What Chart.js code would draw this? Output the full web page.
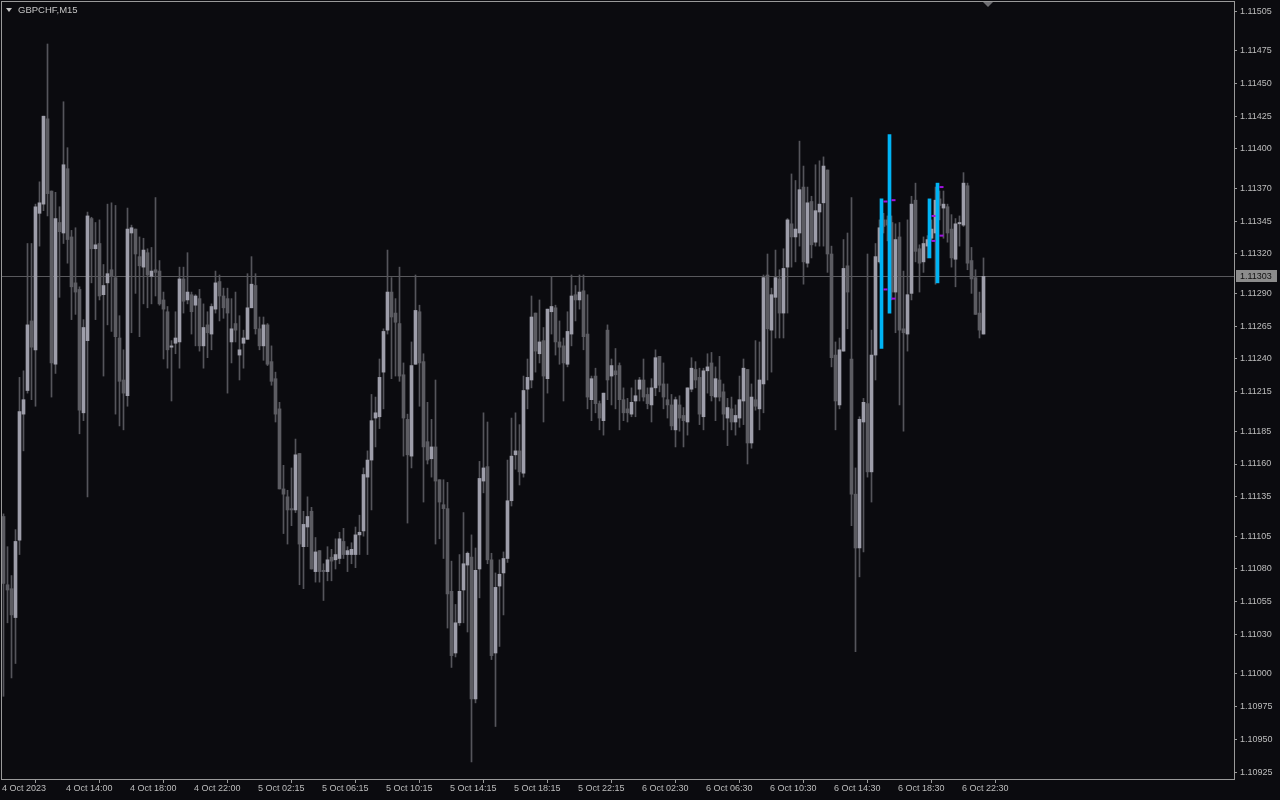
<!DOCTYPE html>
<html>
<head>
<meta charset="utf-8">
<title>GBPCHF,M15</title>
<script src="https://cdn.jsdelivr.net/npm/chart.js@4.4.1/dist/chart.umd.min.js"></script>
<style>
    html, body { margin: 0; padding: 0; background: #0b0b0f; }
    #wrap { position: relative; width: 1280px; height: 800px; }
</style>
</head>
<body>
<div id="wrap"><canvas id="chart" width="1280" height="800"></canvas></div>
<script>
/**
 * GBPCHF M15 candles, 4 Oct 10:00 - 6 Oct 23:15 (one entry per bar)
 */
var symbolLabel = 'GBPCHF,M15';

var opens = [
    1.11120,1.11068,1.11065,1.11043,1.11102,1.11198,1.11216,1.11269,1.11247,1.11351,
    1.11358,1.11423,1.11368,1.11236,1.11344,1.11336,1.11385,1.11333,1.11298,1.11293,
    1.11199,1.11254,1.11347,1.11324,1.11328,1.11289,1.11298,1.11308,1.11302,1.11256,
    1.11224,1.11212,1.11336,1.11339,1.11318,1.11310,1.11321,1.11303,1.11308,1.11307,
    1.11285,1.11276,1.11249,1.11252,1.11253,1.11301,1.11285,1.11289,1.11281,1.11286,
    1.11250,1.11266,1.11259,1.11278,1.11299,1.11288,1.11286,1.11253,1.11267,1.11243,
    1.11252,1.11255,1.11279,1.11296,1.11263,1.11250,1.11266,1.11238,1.11225,1.11202,
    1.11141,1.11135,1.11126,1.11125,1.11168,1.11097,1.11112,1.11124,1.11078,1.11094,
    1.11079,1.11078,1.11089,1.11087,1.11088,1.11101,1.11091,1.11091,1.11091,1.11106,
    1.11109,1.11150,1.11163,1.11195,1.11196,1.11230,1.11262,1.11291,1.11275,1.11267,
    1.11228,1.11194,1.11166,1.11236,1.11276,1.11238,1.11177,1.11164,1.11173,1.11148,
    1.11129,1.11126,1.11063,1.11016,1.11039,1.11064,1.11083,1.11089,1.10981,1.11080,
    1.11147,1.11158,1.11087,1.11016,1.11067,1.11077,1.11088,1.11132,1.11167,1.11170,
    1.11153,1.11217,1.11224,1.11275,1.11244,1.11254,1.11225,1.11276,1.11279,1.11253,
    1.11250,1.11236,1.11259,1.11289,1.11285,1.11292,1.11259,1.11209,1.11227,1.11206,
    1.11193,1.11262,1.11227,1.11231,1.11235,1.11209,1.11202,1.11198,1.11208,1.11217,
    1.11224,1.11213,1.11205,1.11218,1.11242,1.11221,1.11209,1.11205,1.11186,1.11205,
    1.11197,1.11192,1.11217,1.11232,1.11226,1.11196,1.11231,1.11237,1.11211,1.11224,
    1.11215,1.11195,1.11202,1.11192,1.11195,1.11208,1.11232,1.11176,1.11209,1.11202,
    1.11221,1.11304,1.11262,1.11287,1.11301,1.11275,1.11310,1.11343,1.11333,1.11336,
    1.11371,1.11313,1.11360,1.11329,1.11352,1.11359,1.11384,1.11320,1.11243,1.11205,
    1.11246,1.11311,1.11240,1.11137,1.11096,1.11192,1.11206,1.11154,1.11243,1.11314,
    1.11346,1.11346,1.11344,1.11291,1.11333,1.11263,1.11259,1.11290,1.11361,1.11324,
    1.11314,1.11326,1.11332,1.11336,1.11362,1.11355,1.11356,1.11339,1.11316,1.11343,
    1.11342,1.11372,1.11315,1.11302,1.11275,1.11259
];

var highs = [
    1.11122,1.11097,1.11075,1.11110,1.11226,1.11231,1.11328,1.11328,1.11358,1.11375,
    1.11425,1.11480,1.11368,1.11367,1.11356,1.11436,1.11401,1.11338,1.11340,1.11295,
    1.11270,1.11352,1.11348,1.11344,1.11346,1.11312,1.11358,1.11359,1.11357,1.11273,
    1.11247,1.11355,1.11342,1.11339,1.11333,1.11332,1.11324,1.11325,1.11363,1.11315,
    1.11291,1.11280,1.11254,1.11276,1.11310,1.11310,1.11321,1.11291,1.11289,1.11293,
    1.11282,1.11276,1.11282,1.11307,1.11304,1.11294,1.11294,1.11286,1.11291,1.11273,
    1.11262,1.11305,1.11318,1.11305,1.11272,1.11272,1.11267,1.11250,1.11230,1.11207,
    1.11159,1.11140,1.11157,1.11179,1.11168,1.11124,1.11135,1.11127,1.11104,1.11094,
    1.11084,1.11097,1.11095,1.11103,1.11108,1.11111,1.11097,1.11100,1.11112,1.11121,
    1.11157,1.11170,1.11213,1.11211,1.11240,1.11263,1.11323,1.11302,1.11286,1.11310,
    1.11237,1.11198,1.11253,1.11304,1.11281,1.11244,1.11207,1.11194,1.11224,1.11148,
    1.11148,1.11146,1.11086,1.11053,1.11091,1.11123,1.11093,1.11106,1.11096,1.11162,
    1.11199,1.11192,1.11092,1.11077,1.11087,1.11093,1.11163,1.11195,1.11199,1.11190,
    1.11227,1.11240,1.11288,1.11275,1.11285,1.11264,1.11278,1.11303,1.11281,1.11269,
    1.11256,1.11276,1.11304,1.11296,1.11304,1.11304,1.11289,1.11227,1.11233,1.11208,
    1.11214,1.11266,1.11240,1.11248,1.11237,1.11218,1.11210,1.11218,1.11224,1.11226,
    1.11240,1.11218,1.11225,1.11247,1.11242,1.11237,1.11221,1.11213,1.11211,1.11212,
    1.11203,1.11218,1.11241,1.11238,1.11233,1.11233,1.11244,1.11245,1.11234,1.11242,
    1.11221,1.11210,1.11211,1.11205,1.11227,1.11240,1.11232,1.11221,1.11254,1.11253,
    1.11304,1.11320,1.11294,1.11323,1.11308,1.11324,1.11347,1.11381,1.11376,1.11406,
    1.11387,1.11371,1.11364,1.11388,1.11391,1.11394,1.11384,1.11326,1.11253,1.11256,
    1.11331,1.11336,1.11363,1.11157,1.11196,1.11210,1.11320,1.11262,1.11328,1.11346,
    1.11351,1.11349,1.11349,1.11343,1.11344,1.11307,1.11346,1.11364,1.11374,1.11327,
    1.11333,1.11334,1.11346,1.11371,1.11368,1.11368,1.11358,1.11350,1.11347,1.11349,
    1.11382,1.11374,1.11325,1.11308,1.11291,1.11317
];

var lows = [
    1.10983,1.11039,1.10997,1.11008,1.11091,1.11170,1.11214,1.11209,1.11204,1.11326,
    1.11353,1.11349,1.11211,1.11229,1.11287,1.11328,1.11313,1.11270,1.11274,1.11183,
    1.11193,1.11135,1.11298,1.11270,1.11285,1.11227,1.11266,1.11261,1.11198,1.11189,
    1.11186,1.11204,1.11260,1.11290,1.11257,1.11282,1.11279,1.11282,1.11288,1.11281,
    1.11240,1.11233,1.11208,1.11244,1.11233,1.11275,1.11282,1.11259,1.11250,1.11246,
    1.11233,1.11241,1.11247,1.11275,1.11269,1.11271,1.11214,1.11237,1.11253,1.11224,
    1.11233,1.11255,1.11279,1.11259,1.11247,1.11239,1.11235,1.11220,1.11192,1.11141,
    1.11107,1.11099,1.11113,1.11123,1.11068,1.11065,1.11097,1.11080,1.11070,1.11070,
    1.11056,1.11071,1.11071,1.11080,1.11084,1.11088,1.11078,1.11084,1.11081,1.11091,
    1.11105,1.11091,1.11125,1.11173,1.11187,1.11202,1.11259,1.11225,1.11227,1.11223,
    1.11166,1.11115,1.11157,1.11236,1.11204,1.11131,1.11160,1.11150,1.11099,1.11103,
    1.11088,1.11035,1.11005,1.11013,1.11037,1.11039,1.11032,1.10933,1.10978,1.11058,
    1.11138,1.11084,1.11011,1.10960,1.11021,1.11045,1.11085,1.11128,1.11156,1.11144,
    1.11150,1.11202,1.11218,1.11230,1.11237,1.11192,1.11214,1.11259,1.11243,1.11236,
    1.11208,1.11234,1.11250,1.11269,1.11278,1.11247,1.11202,1.11193,1.11199,1.11186,
    1.11182,1.11209,1.11205,1.11202,1.11186,1.11193,1.11192,1.11196,1.11196,1.11208,
    1.11208,1.11202,1.11192,1.11212,1.11215,1.11202,1.11195,1.11186,1.11173,1.11185,
    1.11173,1.11182,1.11215,1.11218,1.11190,1.11186,1.11214,1.11208,1.11193,1.11208,
    1.11186,1.11174,1.11186,1.11182,1.11188,1.11190,1.11160,1.11172,1.11201,1.11186,
    1.11199,1.11224,1.11230,1.11256,1.11256,1.11256,1.11275,1.11310,1.11314,1.11326,
    1.11297,1.11310,1.11317,1.11326,1.11326,1.11326,1.11306,1.11234,1.11186,1.11202,
    1.11246,1.11263,1.11113,1.11017,1.11074,1.11093,1.11150,1.11131,1.11224,1.11313,
    1.11336,1.11330,1.11285,1.11260,1.11205,1.11185,1.11246,1.11285,1.11314,1.11291,
    1.11306,1.11317,1.11330,1.11297,1.11346,1.11332,1.11329,1.11310,1.11295,1.11326,
    1.11341,1.11308,1.11290,1.11274,1.11256,1.11259
];

var closes = [
    1.11069,1.11064,1.11045,1.11101,1.11200,1.11209,1.11266,1.11249,1.11356,1.11359,
    1.11425,1.11366,1.11237,1.11347,1.11337,1.11388,1.11331,1.11295,1.11291,1.11201,
    1.11264,1.11349,1.11324,1.11327,1.11288,1.11296,1.11305,1.11303,1.11257,1.11223,
    1.11214,1.11339,1.11340,1.11320,1.11311,1.11323,1.11304,1.11307,1.11306,1.11282,
    1.11278,1.11247,1.11250,1.11256,1.11301,1.11284,1.11291,1.11276,1.11288,1.11250,
    1.11264,1.11260,1.11280,1.11298,1.11288,1.11279,1.11275,1.11263,1.11262,1.11247,
    1.11256,1.11279,1.11297,1.11263,1.11250,1.11266,1.11236,1.11223,1.11198,1.11141,
    1.11137,1.11125,1.11125,1.11167,1.11099,1.11114,1.11120,1.11080,1.11093,1.11078,
    1.11078,1.11087,1.11086,1.11091,1.11103,1.11091,1.11094,1.11095,1.11106,1.11108,
    1.11152,1.11163,1.11193,1.11199,1.11226,1.11261,1.11291,1.11272,1.11268,1.11227,
    1.11195,1.11167,1.11235,1.11277,1.11237,1.11173,1.11163,1.11173,1.11147,1.11131,
    1.11126,1.11061,1.11014,1.11039,1.11063,1.11084,1.11092,1.10981,1.11079,1.11149,
    1.11157,1.11087,1.11014,1.11066,1.11076,1.11088,1.11132,1.11166,1.11170,1.11154,
    1.11216,1.11226,1.11272,1.11246,1.11253,1.11227,1.11278,1.11280,1.11253,1.11249,
    1.11237,1.11261,1.11288,1.11285,1.11291,1.11257,1.11211,1.11225,1.11206,1.11195,
    1.11214,1.11224,1.11235,1.11228,1.11209,1.11199,1.11199,1.11207,1.11212,1.11224,
    1.11211,1.11206,1.11218,1.11241,1.11220,1.11211,1.11205,1.11189,1.11209,1.11195,
    1.11193,1.11218,1.11233,1.11224,1.11198,1.11231,1.11234,1.11212,1.11225,1.11211,
    1.11198,1.11203,1.11192,1.11197,1.11209,1.11233,1.11176,1.11211,1.11204,1.11224,
    1.11302,1.11263,1.11289,1.11302,1.11275,1.11309,1.11346,1.11333,1.11339,1.11369,
    1.11314,1.11359,1.11327,1.11353,1.11358,1.11387,1.11320,1.11241,1.11208,1.11247,
    1.11309,1.11291,1.11137,1.11096,1.11194,1.11207,1.11154,1.11243,1.11318,1.11340,
    1.11341,1.11342,1.11291,1.11331,1.11262,1.11260,1.11289,1.11358,1.11322,1.11313,
    1.11328,1.11331,1.11339,1.11361,1.11357,1.11358,1.11336,1.11317,1.11343,1.11344,
    1.11374,1.11313,1.11301,1.11274,1.11262,1.11303
];

// price scale labels as the terminal prints them
var priceTicks = [
    1.11505, 1.11475, 1.11450, 1.11425, 1.11400, 1.11370, 1.11345, 1.11320,
    1.11290, 1.11265, 1.11240, 1.11215, 1.11185, 1.11160, 1.11135, 1.11105,
    1.11080, 1.11055, 1.11030, 1.11000, 1.10975, 1.10950, 1.10925
];

// time scale: bar index of each label
var timeTickBars = [0, 16, 32, 48, 64, 80, 96, 112, 128, 144, 160, 176, 192, 208, 224, 240];
var timeTickLabels = [
    '4 Oct 2023', '4 Oct 14:00', '4 Oct 18:00', '4 Oct 22:00',
    '5 Oct 02:15', '5 Oct 06:15', '5 Oct 10:15', '5 Oct 14:15',
    '5 Oct 18:15', '5 Oct 22:15', '6 Oct 02:30', '6 Oct 06:30',
    '6 Oct 10:30', '6 Oct 14:30', '6 Oct 18:30', '6 Oct 22:30'
];

// indicator histogram (blue) and its levels (violet)
var signalBarX = [219.5, 221.5, 231.5, 233.5];
var signalBarLow = [1.11248, 1.11275, 1.11317, 1.11298];
var signalBarHigh = [1.11362, 1.11411, 1.11362, 1.11374];

var levelX = [220.5, 220.5, 222.5, 222.5, 232.5, 232.5, 234.5, 234.5];
var levelPrice = [1.11360, 1.11293, 1.11361, 1.11286, 1.11349, 1.11330, 1.11371, 1.11334];

var bidPrice = 1.11303;

(function() {
    'use strict';

    var BG = '#0b0b0f';
    var FRAME = '#9a9a9a';
    var TEXT = '#bdbdbd';
    var UP = '#9e9eaa';
    var DOWN = '#5c5c62';
    var WICK = '#55555b';
    var BLUE = '#00b4f5';
    var VIOLET = '#a012e0';
    var FONT = { family: '"Liberation Sans", Arial, sans-serif', size: 9 };

    Chart.defaults.font.family = FONT.family;
    Chart.defaults.font.size = FONT.size;
    Chart.defaults.color = TEXT;

    /**
     * Build bar data from the OHLC arrays
     */
    var wicks = [];
    var bodies = [];
    var bodyColors = [];
    for (var i = 0; i < opens.length; i++) {
        var o = opens[i], c = closes[i];
        wicks.push({ x: i, y: [Math.min(lows[i], o, c), Math.max(highs[i], o, c)] });
        bodies.push({ x: i, y: [o, c] });
        bodyColors.push(c >= o ? UP : DOWN);
    }

    var signalBars = signalBarX.map(function(x, k) {
        return { x: x, y: [signalBarLow[k], signalBarHigh[k]] };
    });

    var levels = levelX.map(function(x, k) {
        return { x: x, y: levelPrice[k] };
    });

    /**
     * Keep the plot flush with the frame: no label overhang padding
     */
    function noOverhang(scale) {
        scale.paddingTop = 0;
        scale.paddingBottom = 0;
        scale.paddingLeft = 0;
        scale.paddingRight = 0;
    }

    /**
     * Terminal decorations: background, frame, bid line, price box, title
     */
    var terminalPlugin = {
        id: 'terminal',

        beforeDraw: function(chart) {
            var ctx = chart.ctx;
            ctx.save();
            ctx.fillStyle = BG;
            ctx.fillRect(0, 0, chart.width, chart.height);
            ctx.restore();
        },

        beforeDatasetsDraw: function(chart) {
            var ctx = chart.ctx;
            var area = chart.chartArea;
            var y = Math.round(chart.scales.y.getPixelForValue(bidPrice)) + 0.5;
            ctx.save();
            ctx.strokeStyle = '#58585c';
            ctx.lineWidth = 1;
            ctx.beginPath();
            ctx.moveTo(area.left, y);
            ctx.lineTo(area.right, y);
            ctx.stroke();
            ctx.restore();
        },

        afterDraw: function(chart) {
            var ctx = chart.ctx;
            var area = chart.chartArea;
            var left = Math.round(area.left), top = Math.round(area.top);
            var right = Math.round(area.right), bottom = Math.round(area.bottom);

            ctx.save();

            // frame
            ctx.strokeStyle = FRAME;
            ctx.lineWidth = 1;
            ctx.strokeRect(left - 0.5, top - 0.5, right - left + 1, bottom - top + 1);

            // bid price box on the price scale
            var by = Math.round(chart.scales.y.getPixelForValue(bidPrice));
            ctx.fillStyle = '#8c8c8c';
            ctx.fillRect(right + 2, by - 6, 41, 12);
            ctx.fillStyle = '#101010';
            ctx.font = FONT.size + 'px ' + FONT.family;
            ctx.textBaseline = 'middle';
            ctx.textAlign = 'left';
            ctx.fillText(bidPrice.toFixed(5), right + 6, by + 0.5);

            // chart shift marker
            var sx = Math.round(chart.scales.x.getPixelForValue(opens.length));
            ctx.fillStyle = '#6e6e72';
            ctx.beginPath();
            ctx.moveTo(sx - 5, top);
            ctx.lineTo(sx + 5, top);
            ctx.lineTo(sx, top + 5);
            ctx.closePath();
            ctx.fill();

            // symbol caption
            ctx.fillStyle = '#c4c4c4';
            ctx.beginPath();
            ctx.moveTo(6, 8);
            ctx.lineTo(12, 8);
            ctx.lineTo(9, 12);
            ctx.closePath();
            ctx.fill();
            ctx.font = '9.5px ' + FONT.family;
            ctx.fillText(symbolLabel, 18, 10.5);

            ctx.restore();
        }
    };

    var ctx = document.getElementById('chart').getContext('2d');

    new Chart(ctx, {
        type: 'bar',
        data: {
            datasets: [
                {
                    type: 'scatter',
                    data: levels,
                    pointStyle: 'line',
                    pointRadius: 2,
                    pointHoverRadius: 2,
                    borderColor: VIOLET,
                    backgroundColor: VIOLET,
                    borderWidth: 2
                },
                {
                    data: signalBars,
                    backgroundColor: BLUE,
                    barThickness: 3,
                    grouped: false
                },
                {
                    data: bodies,
                    backgroundColor: bodyColors,
                    barThickness: 3,
                    minBarLength: 1,
                    grouped: false
                },
                {
                    data: wicks,
                    backgroundColor: WICK,
                    barThickness: 1,
                    grouped: false
                }
            ]
        },
        options: {
            responsive: false,
            maintainAspectRatio: false,
            animation: false,
            events: [],
            devicePixelRatio: 1,
            layout: {
                autoPadding: false,
                padding: { left: 2, top: 2, right: 0, bottom: 0 }
            },
            plugins: {
                legend: { display: false },
                tooltip: { enabled: false }
            },
            scales: {
                x: {
                    type: 'linear',
                    position: 'bottom',
                    min: -0.375,
                    max: 307.625,
                    offset: false,
                    border: { display: false },
                    grid: {
                        drawOnChartArea: false,
                        drawTicks: true,
                        tickLength: 4,
                        tickColor: FRAME
                    },
                    ticks: {
                        autoSkip: false,
                        maxRotation: 0,
                        minRotation: 0,
                        align: 'start',
                        labelOffset: -1.5,
                        padding: 0,
                        color: TEXT,
                        font: FONT,
                        callback: function(value) {
                            var k = timeTickBars.indexOf(value);
                            return k < 0 ? '' : timeTickLabels[k];
                        }
                    },
                    afterBuildTicks: function(scale) {
                        scale.ticks = timeTickBars.map(function(v) {
                            return { value: v };
                        });
                    },
                    afterFit: function(scale) {
                        scale.height = 21;
                        noOverhang(scale);
                    }
                },
                y: {
                    type: 'linear',
                    position: 'right',
                    min: 1.10920,
                    max: 1.11512,
                    border: { display: false },
                    grid: {
                        drawOnChartArea: false,
                        drawTicks: true,
                        tickLength: 3,
                        tickColor: FRAME
                    },
                    ticks: {
                        autoSkip: false,
                        padding: 3,
                        color: TEXT,
                        font: FONT,
                        callback: function(value) {
                            return Number(value).toFixed(5);
                        }
                    },
                    afterBuildTicks: function(scale) {
                        scale.ticks = priceTicks.map(function(v) {
                            return { value: v };
                        });
                    },
                    afterFit: function(scale) {
                        scale.width = 46;
                        noOverhang(scale);
                    }
                }
            }
        },
        plugins: [terminalPlugin]
    });

})();
</script>
</body>
</html>
